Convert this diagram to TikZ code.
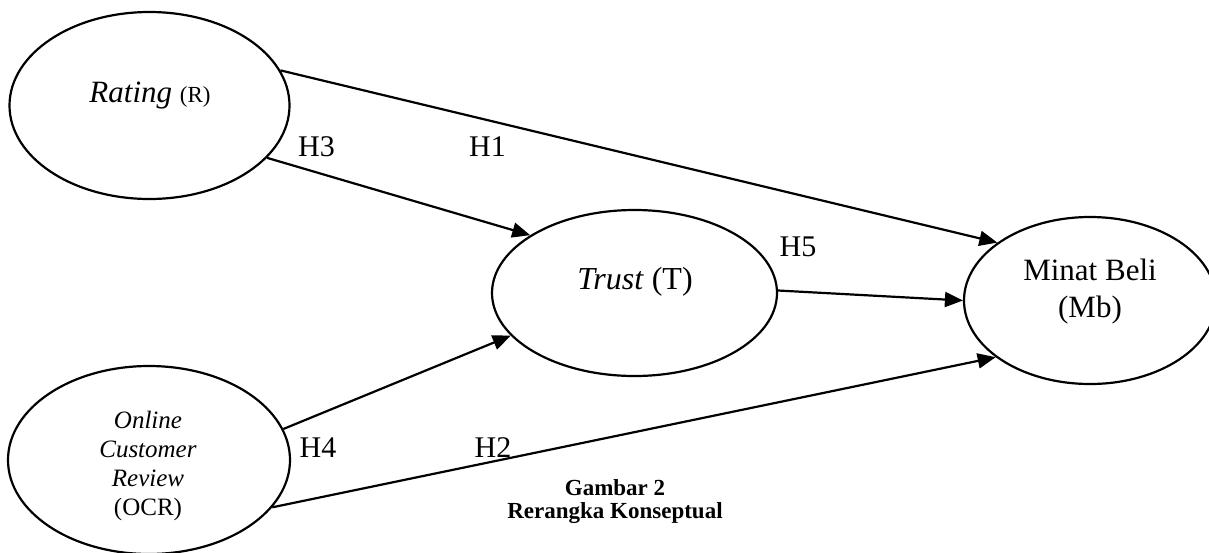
\documentclass[tikz,border=0pt]{standalone}
\usepackage{fontspec}
\setmainfont{Liberation Serif}
\usetikzlibrary{shapes.geometric,arrows.meta}

\begin{document}
\begin{tikzpicture}[
  x=0.5pt,y=-0.5pt,
  every node/.style={font=\fontsize{15.5}{18.5}\selectfont},
  var/.style={draw,ellipse,line width=1.1pt,inner sep=0pt},
  arrow/.style={-{Triangle[length=9pt,width=7.5pt]},line width=1.1pt},
  hyp/.style={anchor=base,font=\fontsize{15}{18}\selectfont}
]
  \useasboundingbox (0,0) rectangle (1209,552);
  % variabel
  \node[var,minimum width=140pt,minimum height=93.5pt] (rating) at (149.5,105.5) {};
  \node[var,minimum width=141pt,minimum height=94pt] (ocr) at (149,460) {};
  \node[var,minimum width=142.5pt,minimum height=83pt] (trust) at (634.5,293) {};
  \node[var,minimum width=126pt,minimum height=83.5pt] (minat) at (1090,300.5) {};
  \node[anchor=base] (ratingtxt) at (150,102)
    {\textit{Rating} {\fontsize{11.5}{13}\selectfont (R)}};
  \node[align=center,font=\fontsize{12.5}{14.5}\selectfont] (ocrtxt) at (148,466)
    {\textit{Online}\\\textit{Customer}\\\textit{Review}\\(OCR)};
  \node[anchor=base,font=\fontsize{16}{19}\selectfont] (trusttxt) at (635,289)
    {\textit{Trust} (T)};
  \node[align=center] (minattxt) at (1090,292) {Minat Beli\\(Mb)};
  % hipotesis
  \draw[arrow] (rating.15)  -- (minat.148);
  \draw[arrow] (rating.-24) -- (trust.151);
  \draw[arrow] (trust.1)    -- (minat.180);
  \draw[arrow] (ocr.13)     -- (trust.199);
  \draw[arrow] (ocr.-21)    -- (minat.211);
  \node[hyp] (h1) at (487.5,156) {H1};
  \node[hyp] (h2) at (493,457) {H2};
  \node[hyp] (h3) at (316.5,156) {H3};
  \node[hyp] (h4) at (318,457) {H4};
  \node[hyp] (h5) at (798,256) {H5};
  \node[align=center,font=\bfseries\fontsize{11.5}{11.5}\selectfont] (judul) at (615,502)
    {Gambar 2\\Rerangka Konseptual};
\end{tikzpicture}
\end{document}
